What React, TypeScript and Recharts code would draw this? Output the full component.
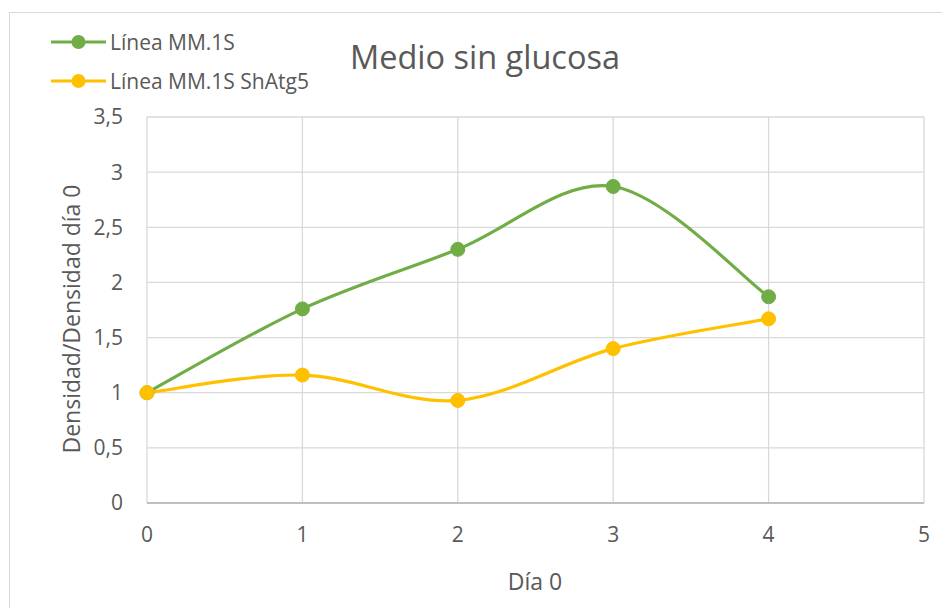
import React from "react";
import { LineChart, Line, XAxis, YAxis, CartesianGrid } from "recharts";

const days = [0, 1, 2, 3, 4];
const mm1s = [1, 1.76, 2.3, 2.87, 1.87];
const shatg5 = [1, 1.16, 0.93, 1.4, 1.67];
const xTicks = [0, 1, 2, 3, 4, 5];
const yTicks = [0, 0.5, 1, 1.5, 2, 2.5, 3, 3.5];

const series = [
  { key: "mm1s", name: "Línea MM.1S", color: "#70ad47" },
  { key: "shatg5", name: "Línea MM.1S ShAtg5", color: "#ffc000" },
];

const data = days.map((d, i) => ({ day: d, mm1s: mm1s[i], shatg5: shatg5[i] }));

const FONT = "'Open Sans', sans-serif";
const INK = "#595959";

// Excel-style smoothed line (Catmull-Rom as cubic beziers)
const excelCurve = (context: any) => {
  let pts: number[][] = [];
  return {
    areaStart() {},
    areaEnd() {},
    lineStart() {
      pts = [];
    },
    point(x: number, y: number) {
      pts.push([+x, +y]);
    },
    lineEnd() {
      if (!pts.length) return;
      context.moveTo(pts[0][0], pts[0][1]);
      for (let i = 0; i < pts.length - 1; i++) {
        const p0 = pts[i - 1] || pts[i];
        const p1 = pts[i];
        const p2 = pts[i + 1];
        const p3 = pts[i + 2] || p2;
        context.bezierCurveTo(
          p1[0] + (p2[0] - p0[0]) / 6,
          p1[1] + (p2[1] - p0[1]) / 6,
          p2[0] - (p3[0] - p1[0]) / 6,
          p2[1] - (p3[1] - p1[1]) / 6,
          p2[0],
          p2[1]
        );
      }
    },
  };
};

const W = 942;
const H = 600;

const App: React.FC = () => (
  <div style={{ position: "relative", width: W, height: H, overflow: "hidden", fontFamily: FONT }}>
    {/* chart frame (only top/left edges visible) */}
    <div
      style={{
        position: "absolute",
        left: 1,
        top: 4,
        width: W + 20,
        height: H + 20,
        borderTop: "1px solid #d9d9d9",
        borderLeft: "1px solid #d9d9d9",
      }}
    />

    <LineChart
      width={W}
      height={H}
      data={data}
      margin={{ top: 109, right: 26, bottom: 65, left: 79 }}
      style={{ position: "absolute", left: 0, top: 0 }}
    >
      <CartesianGrid stroke="#d9d9d9" strokeWidth={1.3} />
      <XAxis
        dataKey="day"
        type="number"
        domain={[0, 5]}
        ticks={xTicks}
        height={40}
        axisLine={{ stroke: "#bfbfbf", strokeWidth: 2 }}
        tickLine={false}
        tickMargin={18}
        tick={{ fill: INK, fontSize: 21, fontFamily: FONT }}
        label={{
          content: () => (
            <text x={527} y={573} textAnchor="middle" dominantBaseline="central" fill={INK} fontSize={23} fontFamily={FONT}>
              Día 0
            </text>
          ),
        }}
      />
      <YAxis
        type="number"
        domain={[0, 3.5]}
        ticks={yTicks}
        width={60}
        axisLine={false}
        tickLine={false}
        tickMargin={18}
        tickFormatter={(v: number) => String(v).replace(".", ",")}
        tick={{ fill: INK, fontSize: 21, fontFamily: FONT }}
        label={{
          content: () => (
            <text
              x={63}
              y={311}
              textAnchor="middle"
              dominantBaseline="central"
              transform="rotate(-90 63 311)"
              fill={INK}
              fontSize={23}
              fontFamily={FONT}
            >
              Densidad/Densidad día 0
            </text>
          ),
        }}
      />
      {series.map((s) => (
        <Line
          key={s.key}
          dataKey={s.key}
          name={s.name}
          type={excelCurve as any}
          stroke={s.color}
          strokeWidth={3.2}
          dot={{ r: 7, fill: s.color, stroke: s.color, strokeWidth: 1 }}
          activeDot={false}
          isAnimationActive={false}
        />
      ))}
    </LineChart>

    {/* title */}
    <div
      style={{
        position: "absolute",
        left: 277,
        width: 400,
        top: 28,
        textAlign: "center",
        fontSize: 32.5,
        color: INK,
        lineHeight: "42px",
      }}
    >
      Medio sin glucosa
    </div>

    {/* legend */}
    <div style={{ position: "absolute", left: 43, top: 14 }}>
      {series.map((s) => (
        <div key={s.key} style={{ display: "flex", alignItems: "center", height: 39 }}>
          <svg width={56} height={20} style={{ display: "block" }}>
            <line x1={0} y1={10} x2={55} y2={10} stroke={s.color} strokeWidth={3.2} />
            <circle cx={27.5} cy={10} r={7} fill={s.color} />
          </svg>
          <span style={{ fontSize: 21, color: INK, marginLeft: 3, whiteSpace: "nowrap" }}>{s.name}</span>
        </div>
      ))}
    </div>
  </div>
);

export default App;
